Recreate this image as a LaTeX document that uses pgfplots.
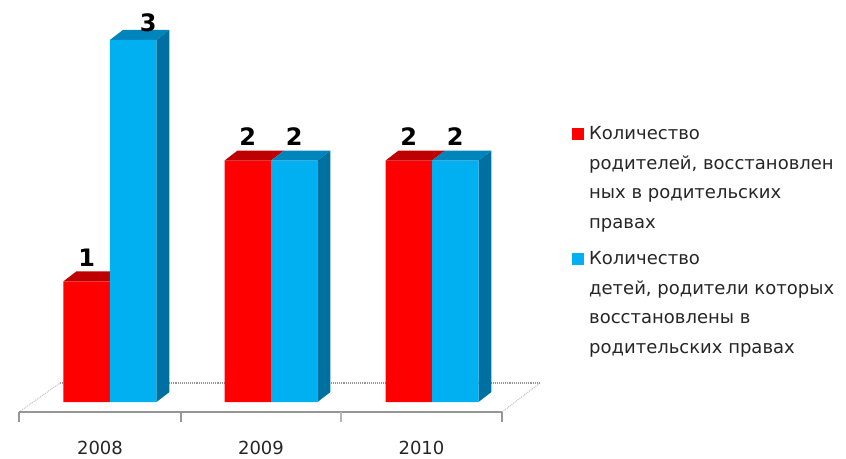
\documentclass[border=0pt]{standalone}
\usepackage{fontspec}
\setmainfont{DejaVu Sans}
\usepackage{pgfplots}
\usepackage{pgfplotstable}
\pgfplotsset{compat=1.18}
\definecolor{redfront}{RGB}{255,0,0}
\definecolor{redtop}{RGB}{190,0,0}
\definecolor{bluefront}{RGB}{0,176,240}
\definecolor{bluetop}{RGB}{0,132,188}
\definecolor{blueside}{RGB}{0,112,160}
\definecolor{floorgray}{RGB}{150,150,150}
\pgfplotstableread{
x y lx ly
0 1 0 0
1 2 0 0
2 2 0 0
}\redtable
\pgfplotstableread{
x y lx ly
0 3 15 -7
1 2 0 0
2 2 0 0
}\bluetable
\begin{document}
\begin{tikzpicture}
\begin{axis}[
  x=161pt, y=120.7pt,
  xmin=-0.6832, xmax=4.5714, ymin=-0.464, ymax=3.3306,
  hide axis, clip=false,
  legend cell align=left,
  legend style={at={(0.6761,0.7293)}, anchor=north west, draw=none, fill=none,
    inner sep=0pt, row sep=17.5pt, font=\fontsize{18}{29.7}\selectfont,
    text=black!85, cells={align=left},
    /tikz/every odd column/.append style={column sep=3pt}},
  /pgf/number format/assume math mode=true,
  every node near coord/.append style={font=\fontsize{24}{24}\selectfont\bfseries,
    anchor=south, inner sep=0pt, text=black},
]
% bounding frame
\addplot[forget plot, draw=none] coordinates {(-0.6832,-0.464) (4.5714,3.3306)};
% floor
\addplot[forget plot, color=floorgray!60, densely dotted, line width=1pt]
  coordinates {(-0.5652,-0.0829) (-0.3106,0.1574)};
\addplot[forget plot, color=floorgray!60, densely dotted, line width=1pt]
  coordinates {(2.4348,-0.0829) (2.6708,0.1574)};
\addplot[forget plot, color=floorgray, densely dotted, line width=1.1pt]
  coordinates {(-0.3106,0.1574) (2.6708,0.1574)};
\addplot[forget plot, color=floorgray, line width=1.6pt]
  coordinates {(-0.5652,-0.0829) (2.4348,-0.0829)};
\addplot[forget plot, color=floorgray, line width=2pt] coordinates {(-0.5652,-0.0829) (-0.5652,-0.1657)};
\addplot[forget plot, color=floorgray, line width=2pt] coordinates {(0.4410,-0.0829) (0.4410,-0.1657)};
\addplot[forget plot, color=floorgray!70, line width=1.5pt] coordinates {(1.4348,-0.0829) (1.4348,-0.1657)};
\addplot[forget plot, color=floorgray, line width=2pt] coordinates {(2.4348,-0.0829) (2.4348,-0.1657)};
% red front faces
\addplot[ybar, bar width=46.5pt, bar shift=-23.25pt, fill=redfront, draw=none,
  nodes near coords,
  visualization depends on={\thisrow{lx} \as \lx},
  visualization depends on={\thisrow{ly} \as \ly},
  every node near coord/.append style={xshift={-23.25pt+\lx pt}, yshift={15pt+\ly pt}},
  legend image code/.code={\fill[redfront] (0pt,38pt) rectangle (12pt,50pt);}]
  table[x=x, y=y] {\redtable};
\addlegendentry{Количество\\родителей, восстановлен\\ных в родительских\\правах}
% red tops
\addplot[forget plot, fill=redtop, draw=none] coordinates {(-0.2888,1) (-0.2081,1.0829) (0.0807,1.0829) (0,1)} --cycle;
\addplot[forget plot, fill=redtop, draw=none] coordinates {(0.7112,2) (0.7919,2.0829) (1.0807,2.0829) (1,2)} --cycle;
\addplot[forget plot, fill=redtop, draw=none] coordinates {(1.7112,2) (1.7919,2.0829) (2.0807,2.0829) (2,2)} --cycle;
% blue tops
\addplot[forget plot, fill=bluetop, draw=none] coordinates {(0,3) (0.0807,3.0829) (0.3695,3.0829) (0.2888,3)} --cycle;
\addplot[forget plot, fill=bluetop, draw=none] coordinates {(1,2) (1.0807,2.0829) (1.3695,2.0829) (1.2888,2)} --cycle;
\addplot[forget plot, fill=bluetop, draw=none] coordinates {(2,2) (2.0807,2.0829) (2.3695,2.0829) (2.2888,2)} --cycle;
% blue sides
\addplot[forget plot, fill=blueside, draw=none] coordinates {(0.2888,0) (0.3695,0.0829) (0.3695,3.0829) (0.2888,3)} --cycle;
\addplot[forget plot, fill=blueside, draw=none] coordinates {(1.2888,0) (1.3695,0.0829) (1.3695,2.0829) (1.2888,2)} --cycle;
\addplot[forget plot, fill=blueside, draw=none] coordinates {(2.2888,0) (2.3695,0.0829) (2.3695,2.0829) (2.2888,2)} --cycle;
% blue front faces
\addplot[ybar, bar width=46.5pt, bar shift=23.25pt, fill=bluefront, draw=none,
  nodes near coords,
  visualization depends on={\thisrow{lx} \as \lx},
  visualization depends on={\thisrow{ly} \as \ly},
  every node near coord/.append style={xshift={23.25pt+\lx pt}, yshift={15pt+\ly pt}},
  legend image code/.code={\fill[bluefront] (0pt,38pt) rectangle (12pt,50pt);}]
  table[x=x, y=y] {\bluetable};
\addlegendentry{Количество\\детей, родители которых\\восстановлены в\\родительских правах}
% category labels
\node[font=\fontsize{18}{18}\selectfont, text=black!85] at (axis cs:-0.0621,-0.377) {2008};
\node[font=\fontsize{18}{18}\selectfont, text=black!85] at (axis cs:0.9379,-0.377) {2009};
\node[font=\fontsize{18}{18}\selectfont, text=black!85] at (axis cs:1.9348,-0.377) {2010};
\end{axis}
\end{tikzpicture}
\end{document}
